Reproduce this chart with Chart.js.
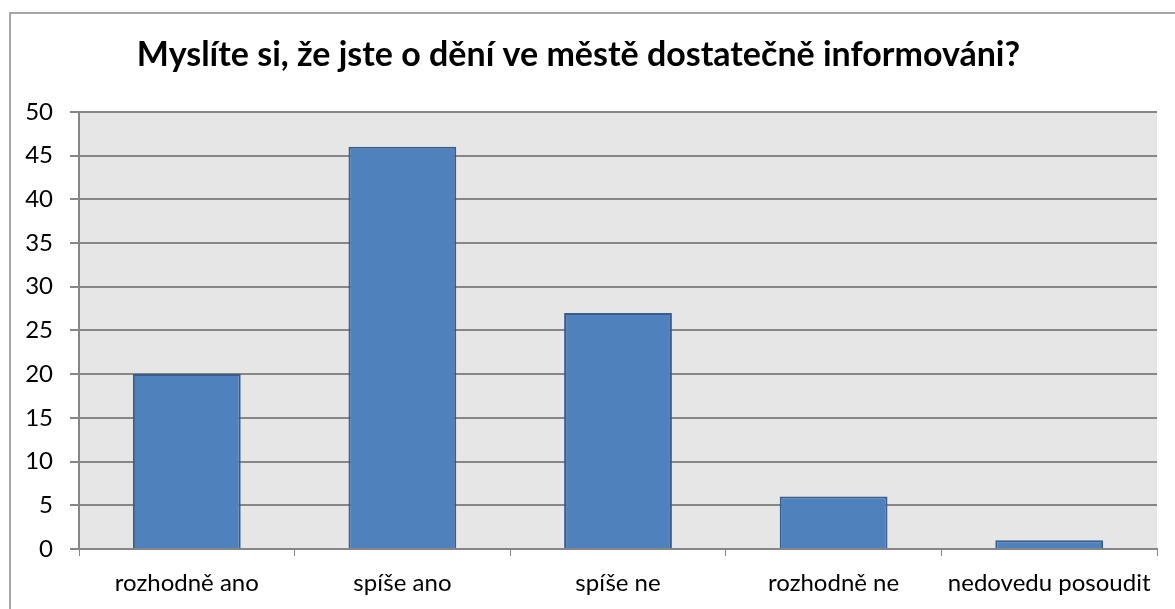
<!DOCTYPE html>
<html>
<head>
<meta charset="utf-8">
<script src="https://cdn.jsdelivr.net/npm/chart.js@4/dist/chart.umd.min.js"></script>
<style>
  html, body { margin: 0; padding: 0; background: #fff; overflow: hidden; }
  #wrap { position: relative; width: 1175px; height: 609px; }
  #frame { position: absolute; left: 9px; top: 12px; width: 1300px; height: 700px;
           border: 2px solid #a6a6a6; box-sizing: border-box; }
  #answersChart { position: absolute; left: 0; top: 0; }
</style>
</head>
<body>
<div id="wrap">
  <div id="frame"></div>
  <canvas id="answersChart" width="1175" height="609"></canvas>
</div>
<script>
var chartTitle = 'Myslíte si, že jste o dění ve městě dostatečně informováni?';
var answers = ['rozhodně ano', 'spíše ano', 'spíše ne', 'rozhodně ne', 'nedovedu posoudit'];
var counts = [20, 46, 27, 6, 1];
var yTicks = [0, 5, 10, 15, 20, 25, 30, 35, 40, 45, 50];

var fontName = 'Lato, "Open Sans", sans-serif';

// grey plot area behind the bars
var plotBackground = {
    id: 'plotBackground',
    beforeDraw: function(chart) {
        var a = chart.chartArea;
        var ctx = chart.ctx;
        ctx.save();
        ctx.fillStyle = '#e6e6e6';
        ctx.fillRect(a.left, a.top, a.right - a.left, a.bottom - a.top);
        ctx.restore();
    }
};

const data = {
    labels: answers,
    datasets: [{
        label: 'Počet',
        data: counts,
        backgroundColor: '#4f81bd',
        borderColor: '#385d8a',
        borderWidth: 2,
        barPercentage: 0.5,
        categoryPercentage: 1.0
    }]
};

const config = {
    type: 'bar',
    data: data,
    plugins: [plotBackground],
    options: {
        responsive: false,
        animation: false,
        layout: { padding: { left: 0, right: 18, top: 0, bottom: 0 } },
        plugins: {
            legend: { display: false },
            tooltip: { enabled: false },
            title: {
                display: true,
                text: chartTitle,
                color: '#000',
                font: { family: fontName, size: 34, weight: 'bold' },
                padding: { top: 35, bottom: 36 }
            }
        },
        scales: {
            x: {
                offset: true,
                grid: {
                    display: true,
                    offset: true,
                    drawOnChartArea: false,
                    tickLength: 7,
                    tickColor: '#868686'
                },
                border: { color: '#868686', width: 2 },
                ticks: {
                    color: '#000',
                    padding: 13,
                    font: { family: fontName, size: 24 }
                },
                afterFit: function(scale) { scale.height = 60; }
            },
            y: {
                min: 0,
                max: 50,
                afterBuildTicks: function(scale) {
                    scale.ticks = yTicks.map(function(v) { return { value: v }; });
                },
                grid: {
                    color: '#868686',
                    lineWidth: 2,
                    tickLength: 9,
                    tickColor: '#868686'
                },
                border: { color: '#868686', width: 2 },
                ticks: {
                    color: '#000',
                    padding: 17,
                    font: { family: fontName, size: 24 }
                },
                afterFit: function(scale) { scale.width = 79; }
            }
        }
    }
};

var answersChart = new Chart(document.getElementById('answersChart'), config);
</script>
</body>
</html>
